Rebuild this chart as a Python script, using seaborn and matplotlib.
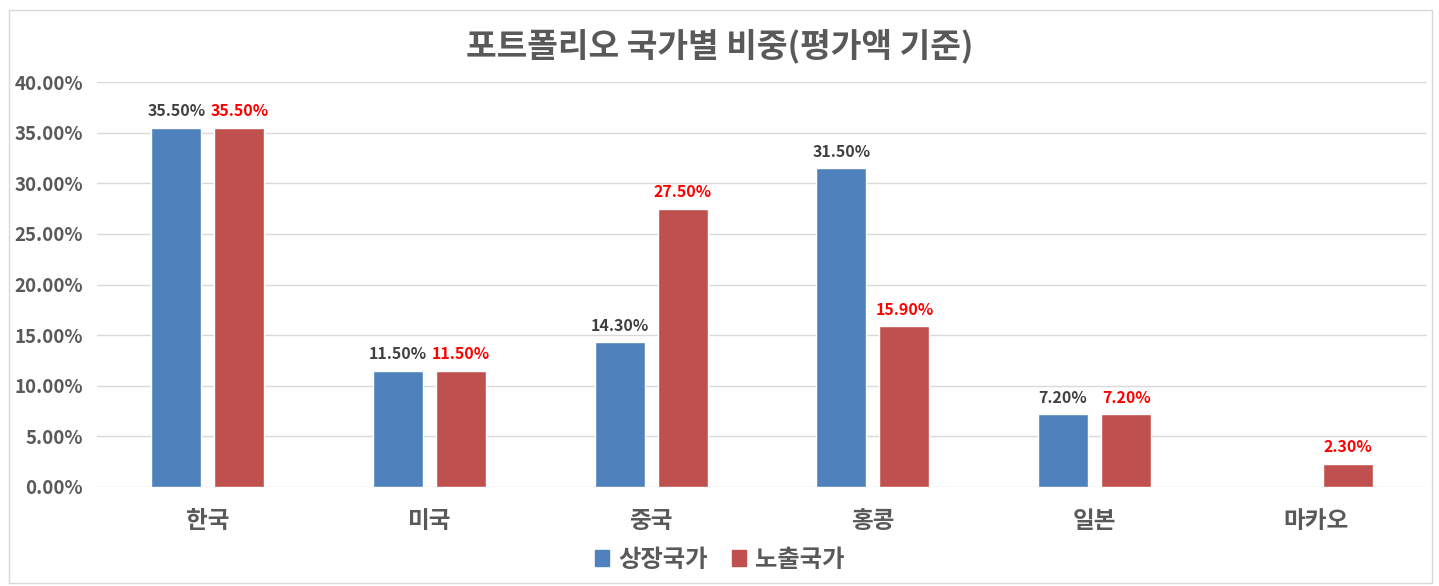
import matplotlib
matplotlib.use("Agg")
import matplotlib.pyplot as plt
import seaborn as sns
import pandas as pd
from matplotlib.patches import Rectangle

countries = ["한국", "미국", "중국", "홍콩", "일본", "마카오"]
listed = [35.5, 11.5, 14.3, 31.5, 7.2, 0.0]
exposure = [35.5, 11.5, 27.5, 15.9, 7.2, 2.3]
series = ["상장국가", "노출국가"]
colors = ["#4F81BD", "#C0504D"]
label_colors = ["#404040", "#FF0000"]
yticks = [0, 5, 10, 15, 20, 25, 30, 35, 40]

df = pd.DataFrame({
    "국가": countries * 2,
    "비중": listed + exposure,
    "구분": [series[0]] * len(countries) + [series[1]] * len(countries),
})

sns.set_theme(style="white")
plt.rcParams["font.family"] = ["Noto Sans CJK KR", "DejaVu Sans"]

fig = plt.figure(figsize=(14.39, 5.86), dpi=100)
fig.patch.set_facecolor("white")
ax = fig.add_axes([0.0674, 0.169, 0.9243, 0.691])

sns.barplot(data=df, x="국가", y="비중", hue="구분", order=countries,
            hue_order=series, palette=colors, width=0.57, gap=0.21,
            saturation=1, ax=ax, legend=False)

ax.set_ylim(0, 40)
ax.set_yticks(yticks)
ax.set_yticklabels([f"{v:.2f}%" for v in yticks], fontsize=13.5, fontweight="bold", color="#595959")
ax.set_xticks(range(len(countries)))
ax.set_xticklabels(countries, fontsize=17, fontweight="bold", color="#595959")
ax.tick_params(axis="x", length=0, pad=16)
ax.tick_params(axis="y", length=0, pad=10)
ax.yaxis.grid(True, color="#D9D9D9", linewidth=1)
ax.set_axisbelow(True)
for s in ax.spines.values():
    s.set_visible(False)
ax.set_xlabel("")
ax.set_ylabel("")
ax.set_xlim(-0.5, len(countries) - 0.5)

for cont, lc in zip(ax.containers, label_colors):
    labels = [f"{b.get_height():.2f}%" if b.get_height() > 0 else "" for b in cont]
    ax.bar_label(cont, labels=labels, padding=6, fontsize=11.5, fontweight="bold", color=lc)

fig.text(0.5, 0.922, "포트폴리오 국가별 비중(평가액 기준)", ha="center", va="center",
         fontsize=24, fontweight="bold", color="#595959")

handles = [Rectangle((0, 0), 1, 1, color=c) for c in colors]
fig.legend(handles, series, loc="center", bbox_to_anchor=(0.5, 0.045), ncol=2,
           frameon=False, handlelength=0.6, handleheight=0.6, handletextpad=0.35,
           columnspacing=1.0, prop={"size": 17.5, "weight": "bold"}, labelcolor="#595959")

fig.patches.append(Rectangle((0.006, 0.005), 0.989, 0.978, transform=fig.transFigure,
                             fill=False, edgecolor="#D9D9D9", linewidth=1))

fig.savefig("out.png", dpi=100, facecolor="white")
